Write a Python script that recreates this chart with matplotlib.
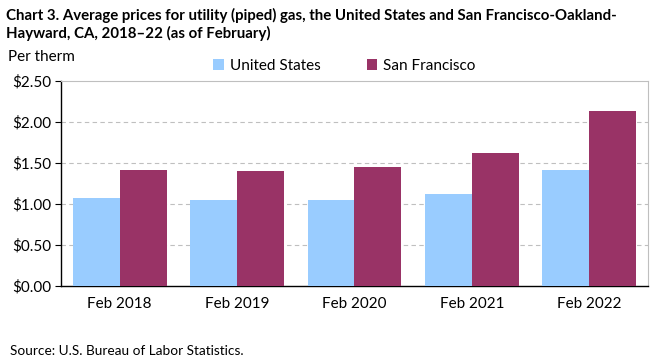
import matplotlib.pyplot as plt
import numpy as np

plt.rcParams['font.family'] = ['Lato', 'DejaVu Sans']

# data
categories = ['Feb 2018', 'Feb 2019', 'Feb 2020', 'Feb 2021', 'Feb 2022']
us_prices = [1.07, 1.05, 1.05, 1.12, 1.41]
sf_prices = [1.42, 1.40, 1.45, 1.62, 2.14]
y_ticks = [0, 0.5, 1.0, 1.5, 2.0, 2.5]

us_color = '#99ccff'
sf_color = '#993366'

fig = plt.figure(figsize=(6.61, 3.61), dpi=100)
ax = fig.add_axes([0.0923, 0.2078, 0.888, 0.5678])

x = np.arange(len(categories))
w = 0.4
ax.bar(x - w / 2, us_prices, w, color=us_color, label='United States', zorder=3)
ax.bar(x + w / 2, sf_prices, w, color=sf_color, label='San Francisco', zorder=3)

ax.set_xlim(-0.5, len(categories) - 0.5)
ax.set_ylim(0, 2.5)
ax.set_yticks(y_ticks)
ax.set_yticklabels([f'${v:.2f}' for v in y_ticks], fontsize=11)
ax.set_xticks(x)
ax.set_xticklabels(categories, fontsize=11)
ax.tick_params(axis='x', length=0, pad=8)
ax.tick_params(axis='y', length=4, direction='out', pad=3)

for v in y_ticks[1:-1]:
    ax.axhline(v, color='#bfbfbf', lw=0.8, ls=(0, (4, 3)), zorder=1)

for s in ['top', 'right']:
    ax.spines[s].set_color('#bfbfbf')
for s in ['left', 'bottom']:
    ax.spines[s].set_color('black')
    ax.spines[s].set_linewidth(1.0)

fig.text(0.009, 0.978, 'Chart 3. Average prices for utility (piped) gas, the United States and San Francisco-Oakland-\nHayward, CA, 2018\u201322 (as of February)',
         fontsize=10.8, fontweight='bold', va='top', ha='left', linespacing=1.25)
fig.text(0.012, 0.842, 'Per therm', fontsize=11, va='center', ha='left')

ax.legend(loc='lower left', bbox_to_anchor=(0.245, 1.0), ncol=2, frameon=False,
          fontsize=11, handlelength=0.7, handleheight=0.7, handletextpad=0.4,
          columnspacing=3.0, borderaxespad=0.15)

fig.text(0.015, 0.028, 'Source: U.S. Bureau of Labor Statistics.', fontsize=9.8, va='center', ha='left')

fig.savefig('out.png', dpi=100)
